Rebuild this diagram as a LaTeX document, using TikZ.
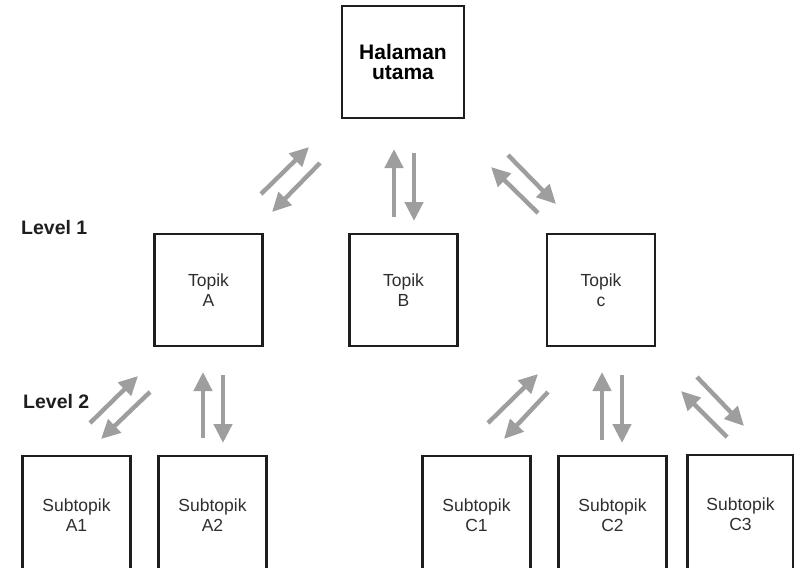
\documentclass[tikz,border=0pt]{standalone}
\usepackage{fontspec}
\setmainfont{Liberation Sans}
\usetikzlibrary{arrows.meta}
\definecolor{boxline}{HTML}{1E1E1E}
\definecolor{boxtext}{HTML}{2E2E2E}
\definecolor{arrowgray}{HTML}{9E9E9E}
\begin{document}
\begin{tikzpicture}[x=1pt,y=-1pt,
  page/.style={draw=boxline,line width=2.8pt,minimum width=#1,minimum height=112pt,
    inner sep=0pt,outer sep=0pt,align=center,text=boxtext,
    font=\fontsize{17.5}{20}\selectfont},
  page/.default=108pt,
  homepage/.style={page=122pt,text=black,
    font=\bfseries\fontsize{21}{19.5}\selectfont},
  subpage/.style={page=#1,minimum height=118pt},
  subpage/.default=108pt,
  flow/.style={draw=arrowgray,line width=4.4pt,
    -{Triangle[length=19pt,width=18pt]}},
  levellabel/.style={font=\bfseries\fontsize{19.5}{22}\selectfont,anchor=base west,
    inner sep=0pt,text=boxline}]
\useasboundingbox (0,0) rectangle (794,567);
\clip (0,0) rectangle (794,567);

% pages
\node[homepage] (home) at (403,62) {Halaman\\utama};
\node[page] (ta) at (208.5,290) {Topik\\A};
\node[page] (tb) at (403.5,290) {Topik\\B};
\node[page] (tc) at (601,290) {Topik\\c};
\node[subpage] (a1) at (76.5,515) {Subtopik\\A1};
\node[subpage] (a2) at (212.5,515) {Subtopik\\A2};
\node[subpage] (c1) at (476.5,515) {Subtopik\\C1};
\node[subpage] (c2) at (612.5,515) {Subtopik\\C2};
\node[subpage=106pt] (c3) at (740.5,514) {Subtopik\\C3};

% level labels
\node[levellabel] (l1) at (21,234) {Level 1};
\node[levellabel] (l2) at (23,408) {Level 2};

% navigation between home page and topics
\draw[flow] (261,194) -- (309,147);
\draw[flow] (320,163) -- (272,212);
\draw[flow] (394,217) -- (394,149);
\draw[flow] (414,153) -- (414,221);
\draw[flow] (538,213) -- (491,167);
\draw[flow] (508,155) -- (556,204);

% navigation between topic A and its subtopics
\draw[flow] (90,423) -- (138,376);
\draw[flow] (150,392) -- (101,439);
\draw[flow] (203,438) -- (203,372);
\draw[flow] (223,375) -- (223,443);

% navigation between topic C and its subtopics
\draw[flow] (488,423) -- (538,374);
\draw[flow] (548,392) -- (504,439);
\draw[flow] (602,440) -- (602,372);
\draw[flow] (622,375) -- (622,443);
\draw[flow] (727,437) -- (681,391);
\draw[flow] (697,377) -- (744,426);
\end{tikzpicture}
\end{document}
